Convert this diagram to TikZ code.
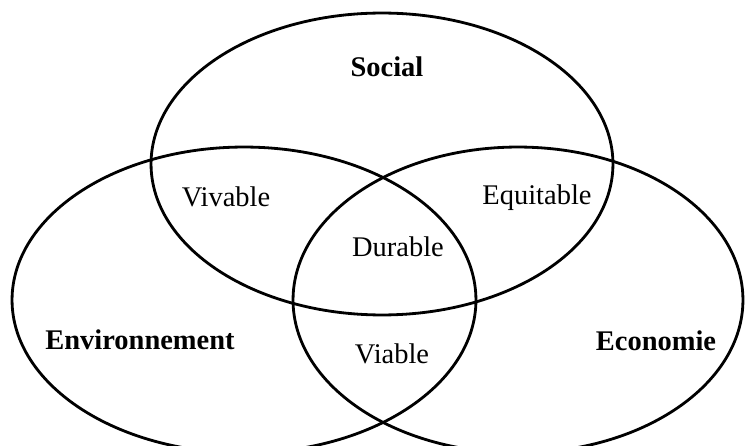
\documentclass[tikz,border=0pt]{standalone}
\usepackage{fontspec}
\setmainfont{Liberation Serif}

\begin{document}
\begin{tikzpicture}[x=0.02cm, y=-0.02cm,
    circ/.style={draw=black, line width=1.6pt},
    lbl/.style={font=\fontsize{16.2}{19}\selectfont, inner sep=0pt},
    title/.style={font=\fontsize{16.2}{19}\selectfont\bfseries, inner sep=0pt}]
			% Fix the frame to the size of the figure
			\useasboundingbox (0,0) rectangle (745,446);
			\clip (0,0) rectangle (745,446);
			
			% Draw the three sets
			\draw[circ] (382,164) ellipse (4.62cm and 3.02cm);
			\draw[circ] (244,300) ellipse (4.64cm and 3.06cm);
			\draw[circ] (518,300) ellipse (4.50cm and 3.06cm);
			
			% Name each set
			\node[title] (social) at (387,67) {Social};
			\node[title] (envir) at (140,340) {Environnement};
			\node[title] (econ) at (656,341) {Economie};
			
			% Label the overlaps
			\node[lbl] (vivable) at (226,197) {Vivable};
			\node[lbl] (equit) at (537,198) {Equitable};
			\node[lbl] (durable) at (398,247) {Durable};
			\node[lbl] (viable) at (392,354) {Viable};
		\end{tikzpicture}
\end{document}
